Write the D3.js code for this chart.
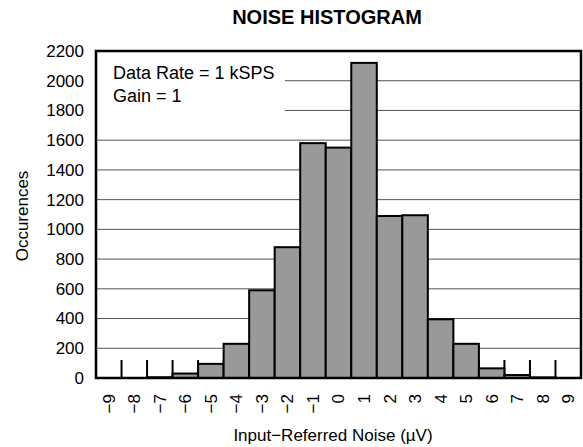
<!DOCTYPE html>
<html>
<head>
<meta charset="utf-8">
<script src="https://cdn.jsdelivr.net/npm/d3@7"></script>
<style>
  body { margin: 0; background: #fff; }
  text { font-family: 'Liberation Sans', Arial, sans-serif; fill: #000; }
</style>
</head>
<body>
<div id="chart"></div>
<script>
(function () {
  'use strict';

  var bins = [-9, -8, -7, -6, -5, -4, -3, -2, -1, 0, 1, 2, 3, 4, 5, 6, 7, 8, 9];
  var counts = [0, 0, 5, 30, 95, 230, 590, 880, 1580, 1550, 2120, 1090, 1095, 395, 230, 65, 20, 4, 0];
  var yTicks = [0, 200, 400, 600, 800, 1000, 1200, 1400, 1600, 1800, 2000, 2200];
  var notes = ['Data Rate = 1 kSPS', 'Gain = 1'];

  var width = 583;
  var height = 447;
  var margin = { top: 51, right: 2, bottom: 69, left: 96 };
  var plotW = width - margin.left - margin.right;
  var plotH = height - margin.top - margin.bottom;

  var svg = d3.select('#chart').append('svg')
    .attr('width', width)
    .attr('height', height);

  var x = d3.scaleBand()
    .domain(bins)
    .range([0, plotW])
    .padding(0);

  var y = d3.scaleLinear()
    .domain([0, 2200])
    .range([plotH, 0]);

  function fmt(v) {
    return v < 0 ? '\u2212' + Math.abs(v) : String(v);
  }

  svg.append('text')
    .attr('x', 327)
    .attr('y', 24)
    .attr('text-anchor', 'middle')
    .style('font-size', '20px')
    .style('font-weight', 'bold')
    .text('NOISE HISTOGRAM');

  var g = svg.append('g')
    .attr('transform', 'translate(' + margin.left + ',' + margin.top + ')');

  // gridlines
  g.selectAll('.grid')
    .data(yTicks.filter(function (d) { return d > 0 && d < 2200; }))
    .enter()
    .append('line')
    .attr('class', 'grid')
    .attr('x1', 0)
    .attr('x2', plotW)
    .attr('y1', function (d) { return y(d); })
    .attr('y2', function (d) { return y(d); })
    .attr('stroke', '#555')
    .attr('stroke-width', 1);

  // note box hides the grid behind the text
  g.append('rect')
    .attr('x', 0)
    .attr('y', 0)
    .attr('width', 189)
    .attr('height', 72)
    .attr('fill', '#fff');

  g.selectAll('.note')
    .data(notes)
    .enter()
    .append('text')
    .attr('class', 'note')
    .attr('x', 17)
    .attr('y', function (d, i) { return 28 + i * 23; })
    .style('font-size', '18px')
    .text(function (d) { return d; });

  // inner ticks at bin edges
  g.selectAll('.edge')
    .data(bins.slice(1))
    .enter()
    .append('line')
    .attr('class', 'edge')
    .attr('x1', function (d) { return x(d); })
    .attr('x2', function (d) { return x(d); })
    .attr('y1', plotH)
    .attr('y2', plotH - 18)
    .attr('stroke', '#000')
    .attr('stroke-width', 2);

  // bars
  g.selectAll('.bar')
    .data(bins)
    .enter()
    .append('rect')
    .attr('class', 'bar')
    .attr('x', function (d) { return x(d); })
    .attr('y', function (d, i) { return y(counts[i]); })
    .attr('width', x.bandwidth())
    .attr('height', function (d, i) { return plotH - y(counts[i]); })
    .attr('fill', '#999')
    .attr('stroke', '#000')
    .attr('stroke-width', 2);

  // frame
  g.append('rect')
    .attr('x', 0)
    .attr('y', 0)
    .attr('width', plotW)
    .attr('height', plotH)
    .attr('fill', 'none')
    .attr('stroke', '#000')
    .attr('stroke-width', 2.5);

  // y axis labels
  var yAxis = g.append('g')
    .call(d3.axisLeft(y).tickValues(yTicks).tickFormat(d3.format('d')).tickSize(0).tickPadding(12));
  yAxis.select('.domain').remove();
  yAxis.selectAll('text')
    .style('font-size', '17px')
    .style('font-family', "'Liberation Sans', Arial, sans-serif");

  // x axis labels
  var xAxis = g.append('g')
    .attr('transform', 'translate(0,' + plotH + ')')
    .call(d3.axisBottom(x).tickSize(0).tickFormat(fmt));
  xAxis.select('.domain').remove();
  xAxis.selectAll('text')
    .attr('transform', 'translate(0,16) rotate(-90)')
    .attr('x', 0)
    .attr('y', 0)
    .attr('dy', '0.35em')
    .style('text-anchor', 'end')
    .style('font-size', '17px')
    .style('font-family', "'Liberation Sans', Arial, sans-serif");

  svg.append('text')
    .attr('x', 333)
    .attr('y', 441)
    .attr('text-anchor', 'middle')
    .style('font-size', '17px')
    .text('Input\u2212Referred Noise (\u00b5V)');

  svg.append('text')
    .attr('transform', 'translate(28,216) rotate(-90)')
    .attr('text-anchor', 'middle')
    .style('font-size', '17px')
    .text('Occurences');
}());
</script>
</body>
</html>
